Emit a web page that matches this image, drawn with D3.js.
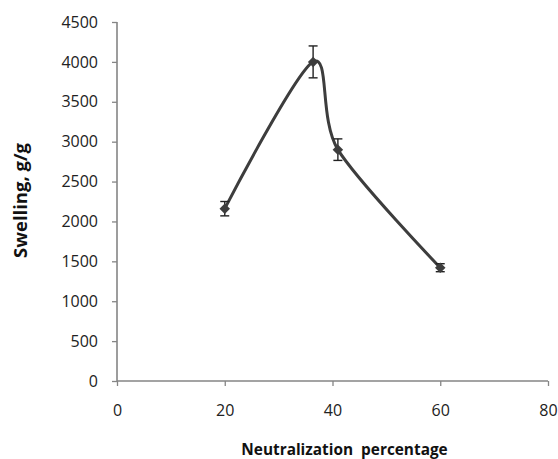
<!DOCTYPE html>
<html><head><meta charset="utf-8">
<script src="https://cdn.jsdelivr.net/npm/d3@7"></script>
<style>body{margin:0;background:#fff}svg{display:block}</style>
</head><body>
<svg id="c" width="558" height="459"></svg>
<script>
const neutralization = [20, 36.4, 41, 60];
const swelling = [2160, 4000, 2900, 1420];
const errors = [90, 200, 135, 50];
const xTicks = [0, 20, 40, 60, 80];
const yTicks = [0, 500, 1000, 1500, 2000, 2500, 3000, 3500, 4000, 4500];

const svg = d3.select("#c");
const x = d3.scaleLinear().domain([0, 80]).range([117, 548]);
const y = d3.scaleLinear().domain([0, 4500]).range([381, 22]);
const axisColor = "#858585";
const font = "'Open Sans', 'Liberation Sans', sans-serif";

const yAxis = svg.append("g").attr("transform", "translate(117,0)")
  .call(d3.axisLeft(y).tickValues(yTicks).tickSize(5).tickPadding(14).tickFormat(d3.format("d")));
const xAxis = svg.append("g").attr("transform", "translate(0,381)")
  .call(d3.axisBottom(x).tickValues(xTicks).tickSize(5).tickPadding(19).tickFormat(d3.format("d")));
[yAxis, xAxis].forEach(g => {
  g.select(".domain").attr("stroke", axisColor).attr("stroke-width", 1.6);
  g.selectAll(".tick line").attr("stroke", axisColor).attr("stroke-width", 1.3);
  g.selectAll("text").attr("fill", "#222").style("font-family", font).style("font-size", "16px");
});
yAxis.select(".domain").attr("d", `M0,${y(4500)}V${y(0)}`);
xAxis.select(".domain").attr("d", `M${x(0)},0H${x(80)}`);

const data = neutralization.map((v, i) => ({x: v, y: swelling[i], e: errors[i]}));
const col = "#3d3d3d";

svg.append("path").datum(data)
  .attr("fill", "none").attr("stroke", col).attr("stroke-width", 3)
  .attr("d", d3.line().x(d => x(d.x)).y(d => y(d.y)).curve(d3.curveCardinal.tension(0.1)));

const eb = svg.append("g").attr("stroke", "#222").attr("stroke-width", 1.4);
data.forEach(d => {
  eb.append("line").attr("x1", x(d.x)).attr("x2", x(d.x)).attr("y1", y(d.y + d.e)).attr("y2", y(d.y - d.e));
  eb.append("line").attr("x1", x(d.x) - 4.5).attr("x2", x(d.x) + 4.5).attr("y1", y(d.y + d.e)).attr("y2", y(d.y + d.e));
  eb.append("line").attr("x1", x(d.x) - 4.5).attr("x2", x(d.x) + 4.5).attr("y1", y(d.y - d.e)).attr("y2", y(d.y - d.e));
});

svg.append("g").selectAll("path").data(data).join("path")
  .attr("transform", d => `translate(${x(d.x)},${y(d.y)})`)
  .attr("d", d3.symbol(d3.symbolDiamond2, 70))
  .attr("fill", col);

function fitText(sel, target, base) {
  sel.style("font-size", base + "px");
  const w = sel.node().getComputedTextLength();
  sel.style("font-size", (base * target / w) + "px");
}
const yt = svg.append("text").attr("transform", "translate(27,200.5) rotate(-90)")
  .attr("text-anchor", "middle").attr("fill", "#111")
  .style("font-family", font).style("font-weight", "bold")
  .text("Swelling, g/g");
fitText(yt, 115, 14);
const xt = svg.append("text").attr("x", 344.5).attr("y", 455)
  .attr("text-anchor", "middle").attr("fill", "#111")
  .style("font-family", font).style("font-weight", "bold")
  .style("word-spacing", "4px")
  .text("Neutralization percentage");
fitText(xt, 207, 14);
</script>
</body></html>
